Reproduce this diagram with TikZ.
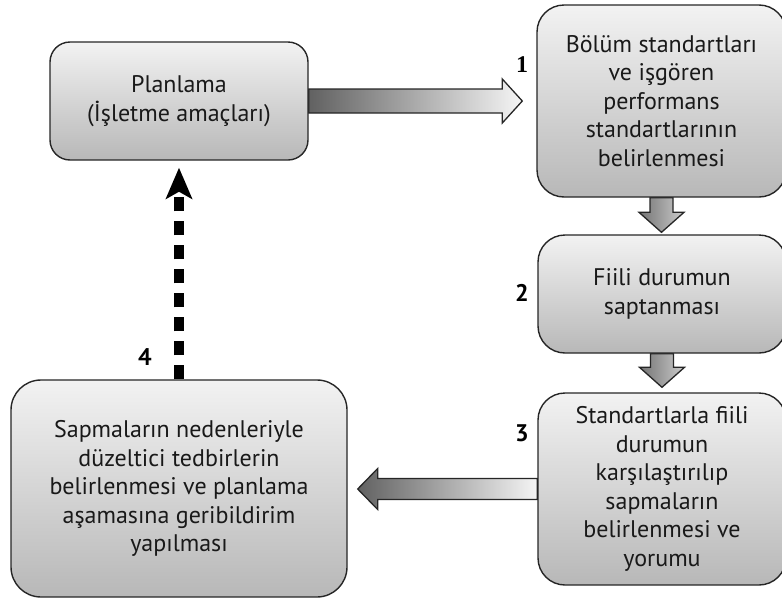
\documentclass[tikz,border=0pt]{standalone}
\usepackage{fontspec}
\setmainfont{PT Sans}
\newfontfamily\numserif{Liberation Serif}
\usetikzlibrary{arrows.meta,calc,backgrounds}

\begin{document}
\begin{tikzpicture}[
  x=1pt, y=-1pt,
  box/.style={draw=black!85, line width=1.4pt, rounded corners=27pt, top color=black!5, bottom color=black!28,
    align=center, text=black!90, inner sep=0pt, font=\fontsize{24}{28.5}\selectfont},
  num/.style={font=\fontsize{24}{24}\selectfont\bfseries},
  fat/.style={draw=black!85, line width=1.3pt, line join=miter},
  hfat/.style={fat, left color=black!62, right color=black!4},
  vfat/.style={fat, left color=black!55, right color=black!20},
  back/.style={line width=10pt, dash pattern=on 14pt off 10pt, -{Stealth[length=31pt,width=26pt,inset=7pt]}}
]
\useasboundingbox (0,0) rectangle (782,600);

\node[box, rounded corners=20pt, minimum width=258pt, minimum height=118pt] (plan) at (179,101) {Planlama\\(İşletme amaçları)};
\node[box, minimum width=249pt, minimum height=192pt] (std) at (661.5,101) {Bölüm standartları\\ve işgören\\performans\\standartlarının\\belirlenmesi};
\node[box, minimum width=248pt, minimum height=118pt] (fiili) at (662,294) {Fiili durumun\\saptanması};
\node[box, minimum width=248pt, minimum height=192pt] (karsi) at (662,489) {Standartlarla fiili\\durumun\\karşılaştırılıp\\sapmaların\\belirlenmesi ve\\yorumu};
\node[box, rounded corners=30pt, minimum width=336pt, minimum height=217pt] (fb) at (179,488.5) {Sapmaların nedenleriyle\\düzeltici tedbirlerin\\belirlenmesi ve planlama\\aşamasına geribildirim\\yapılması};

\node[num] (n1) at (522,65) {\numserif 1};
\node[num] (n2) at (522,293) {2};
\node[num] (n3) at (522,433) {3};
\node[num] (n4) at (145,357) {4};

\begin{scope}[on background layer]
% block arrows
\path[hfat] let \p1=(plan.east), \p2=($(std.west)+(-14,0)$) in
  (\x1,\y1+12pt) -- (\x2-20pt,\y1+12pt) -- (\x2-20pt,\y1+22pt) -- (\x2,\y1)
  -- (\x2-20pt,\y1-22pt) -- (\x2-20pt,\y1-12pt) -- (\x1,\y1-12pt) -- cycle;
\path[vfat] let \p1=(std.south), \p2=($(fiili.north)+(0,-2)$) in
  (\x1-11.5pt,\y1) -- (\x1-11.5pt,\y2+20pt) -- (\x1-22.5pt,\y2+20pt) -- (\x1,\y2)
  -- (\x1+22.5pt,\y2+20pt) -- (\x1+11.5pt,\y2+20pt) -- (\x1+11.5pt,\y1) -- cycle;
\path[vfat] let \p1=(fiili.south), \p2=($(karsi.north)+(0,-5)$) in
  (\x1-11.5pt,\y1) -- (\x1-11.5pt,\y2+20pt) -- (\x1-22.5pt,\y2+20pt) -- (\x1,\y2)
  -- (\x1+22.5pt,\y2+20pt) -- (\x1+11.5pt,\y2+20pt) -- (\x1+11.5pt,\y1) -- cycle;
\path[hfat] let \p1=(karsi.west), \p2=($(fb.east)+(10,0)$) in
  (\x1,\y1+10.5pt) -- (\x2+20pt,\y1+10.5pt) -- (\x2+20pt,\y1+20.5pt) -- (\x2,\y1)
  -- (\x2+20pt,\y1-20.5pt) -- (\x2+20pt,\y1-10.5pt) -- (\x1,\y1-10.5pt) -- cycle;
\end{scope}

% feedback
\draw[back, shorten >=7pt] (fb.north) -- (plan.south);
\end{tikzpicture}
\end{document}
